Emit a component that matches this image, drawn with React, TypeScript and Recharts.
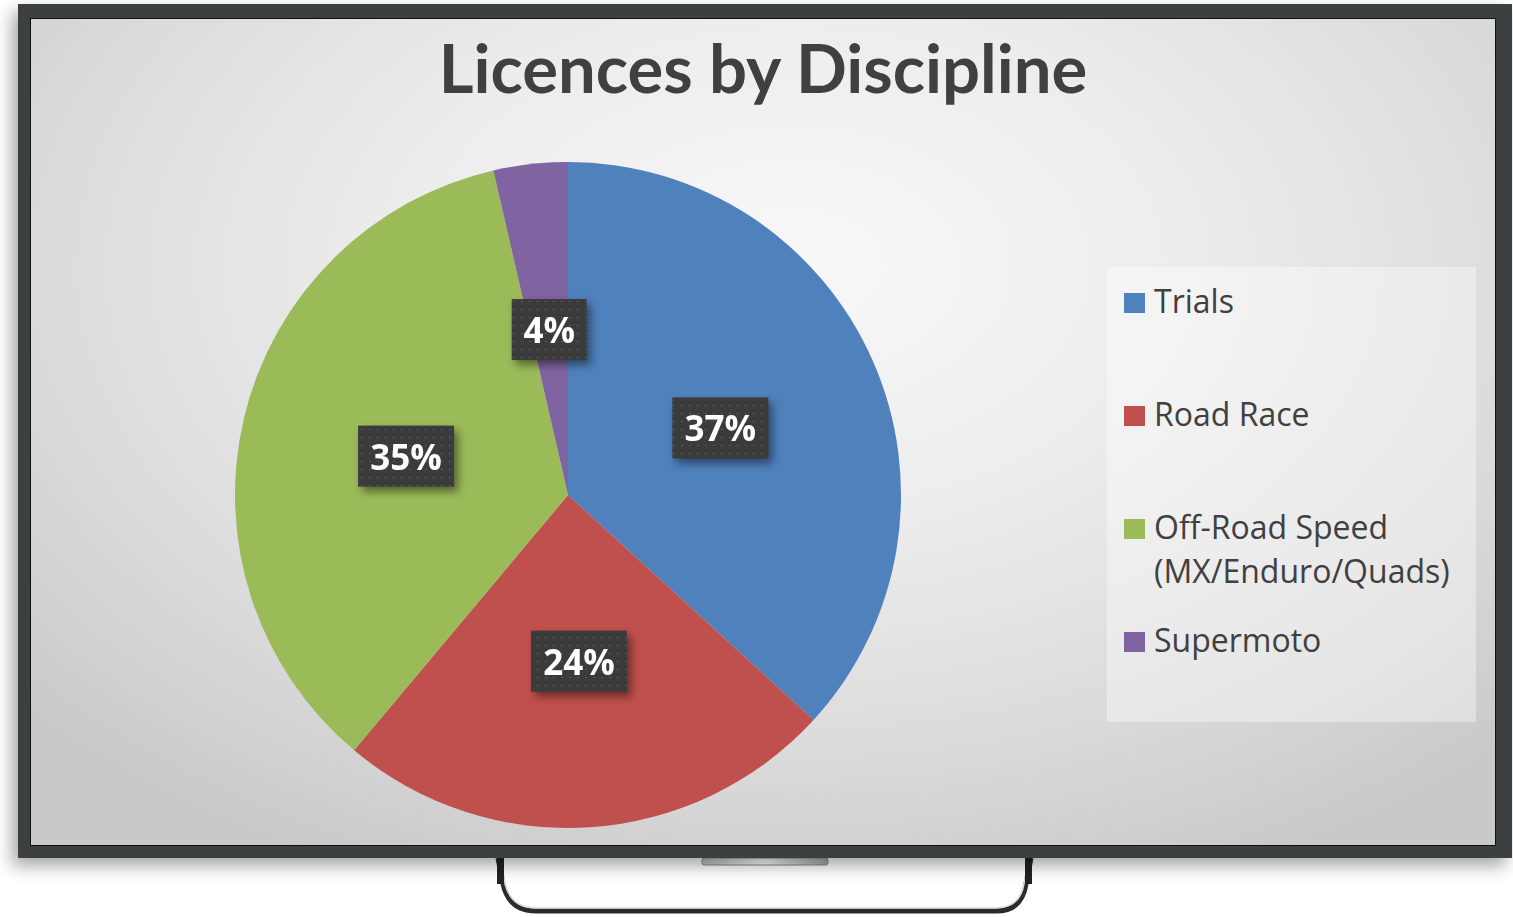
import { PieChart, Pie, Cell, Legend } from "recharts";

const DISCIPLINES = ["Trials", "Road Race", "Off-Road Speed (MX/Enduro/Quads)", "Supermoto"];
const SHARES = [36.8, 24.3, 35.3, 3.6];
const COLORS = ["#4f81bd", "#c0504d", "#9bbb59", "#8064a2"];

const TITLE = "Licences by Discipline";

const RAD = Math.PI / 180;

const data = DISCIPLINES.map((name, i) => ({ name, value: SHARES[i] }));

function DarkLabel(props: any) {
  const { cx, cy, midAngle, outerRadius, percent } = props;
  const r = outerRadius * 0.5;
  const x = cx + r * Math.cos(-midAngle * RAD);
  const y = cy + r * Math.sin(-midAngle * RAD);
  const text = `${Math.round(percent * 100)}%`;
  const w = 33 + 21 * text.length;
  const h = 61;

  return (
    <g style={{ filter: "drop-shadow(4px 5px 4px rgba(0,0,0,0.45))" }}>
      <defs>
        <pattern id="lblDots" width="8" height="8" patternUnits="userSpaceOnUse">
          <rect x="2" y="2" width="2" height="1" fill="#5a5a5a" />
        </pattern>
      </defs>
      <rect x={x - w / 2} y={y - h / 2} width={w} height={h} fill="#3b3b3b" />
      <rect x={x - w / 2} y={y - h / 2} width={w} height={h} fill="url(#lblDots)" />
      <text
        x={x}
        y={y}
        textAnchor="middle"
        dominantBaseline="central"
        fill="#ffffff"
        fontFamily="'Open Sans', sans-serif"
        fontWeight={700}
        fontSize={35}
      >
        {text}
      </text>
    </g>
  );
}

function BoxLegend({ payload }: any) {
  // keep the order of the data, not the legend's sorted order
  const items = [...(payload ?? [])].sort(
    (a: any, b: any) => DISCIPLINES.indexOf(a.value) - DISCIPLINES.indexOf(b.value)
  );
  return (
    <div
      style={{
        position: "relative",
        width: 369,
        height: 455,
        background: "rgba(255,255,255,0.38)",
        fontFamily: "'Open Sans', sans-serif",
        fontSize: 32,
        lineHeight: "44px",
        color: "#404040",
      }}
    >
      {items.map((it: any, i: number) => (
        <div
          key={String(it.value)}
          style={{ position: "absolute", left: 0, top: 12 + 113 * i, width: 369 }}
        >
          <div
            style={{
              position: "absolute",
              left: 17,
              top: 14,
              width: 21,
              height: 20,
              background: COLORS[DISCIPLINES.indexOf(it.value)],
            }}
          />
          <div style={{ position: "absolute", left: 47, top: 0, width: 318, whiteSpace: "normal" }}>
            {it.value}
          </div>
        </div>
      ))}
    </div>
  );
}

function Stand() {
  return (
    <svg
      width={1513}
      height={917}
      style={{ position: "absolute", left: 0, top: 0, pointerEvents: "none" }}
    >
      <defs>
        <linearGradient id="strip" x1="0" x2="1" y1="0" y2="0">
          <stop offset="0" stopColor="#bdbdbd" />
          <stop offset="0.5" stopColor="#ffffff" />
          <stop offset="1" stopColor="#a9a9a9" />
        </linearGradient>
      </defs>
      <path
        d="M 498 858 L 503 884 Q 509 911 536 911 L 996 911 Q 1022 911 1026 884 L 1031 858"
        fill="none"
        stroke="#2b2b2b"
        strokeWidth={5}
      />
      <path
        d="M 501 862 L 505 884 Q 511 908 536 908 L 996 908 Q 1020 908 1024 884 L 1028 862"
        fill="none"
        stroke="#d8d8d8"
        strokeWidth={1.5}
      />
      <rect x={497} y={858} width={7} height={26} fill="#222" />
      <rect x={1025} y={858} width={7} height={26} fill="#222" />
      <rect x={702} y={858} width={126} height={7} rx={2} fill="url(#strip)" stroke="#8a8a8a" strokeWidth={1} />
    </svg>
  );
}

export default function App() {
  return (
    <div
      style={{
        position: "absolute",
        left: 0,
        top: 0,
        width: 1513,
        height: 917,
        background: "#ffffff",
        overflow: "hidden",
      }}
    >
      <Stand />
      {/* bezel */}
      <div
        style={{
          position: "absolute",
          left: 18,
          top: 4,
          width: 1494,
          height: 854,
          background: "#3c4040",
          boxShadow: "-6px 8px 16px rgba(0,0,0,0.35)",
        }}
      />
      {/* screen */}
      <div
        style={{
          position: "absolute",
          left: 31,
          top: 19,
          width: 1464,
          height: 826,
          outline: "1px solid #111",
          background:
            "radial-gradient(ellipse 70% 80% at 52% 30%, #f8f8f8 0%, #ececec 40%, #dadada 75%, #c9c9c9 100%)",
        }}
      >
        <div
          style={{
            position: "absolute",
            left: 0,
            top: 15,
            width: 1464,
            textAlign: "center",
            fontFamily: "Lato, sans-serif",
            fontWeight: 700,
            fontSize: 67,
            lineHeight: "67px",
            color: "#404040",
          }}
        >
          {TITLE}
        </div>
        <div style={{ position: "absolute", left: 0, top: 0 }}>
          <PieChart width={1464} height={826} margin={{ top: 0, right: 0, bottom: 0, left: 0 }}>
            <Pie
              data={data}
              dataKey="value"
              nameKey="name"
              cx={537}
              cy={476}
              outerRadius={333}
              startAngle={90}
              endAngle={-270}
              stroke="none"
              isAnimationActive={false}
              labelLine={false}
              label={DarkLabel}
            >
              {data.map((d, i) => (
                <Cell key={d.name} fill={COLORS[i]} />
              ))}
            </Pie>
            <Legend
              layout="vertical"
              align="right"
              verticalAlign="top"
              content={<BoxLegend />}
              wrapperStyle={{ left: 1076, top: 248, width: 369, height: 455 }}
            />
          </PieChart>
        </div>
      </div>
    </div>
  );
}
